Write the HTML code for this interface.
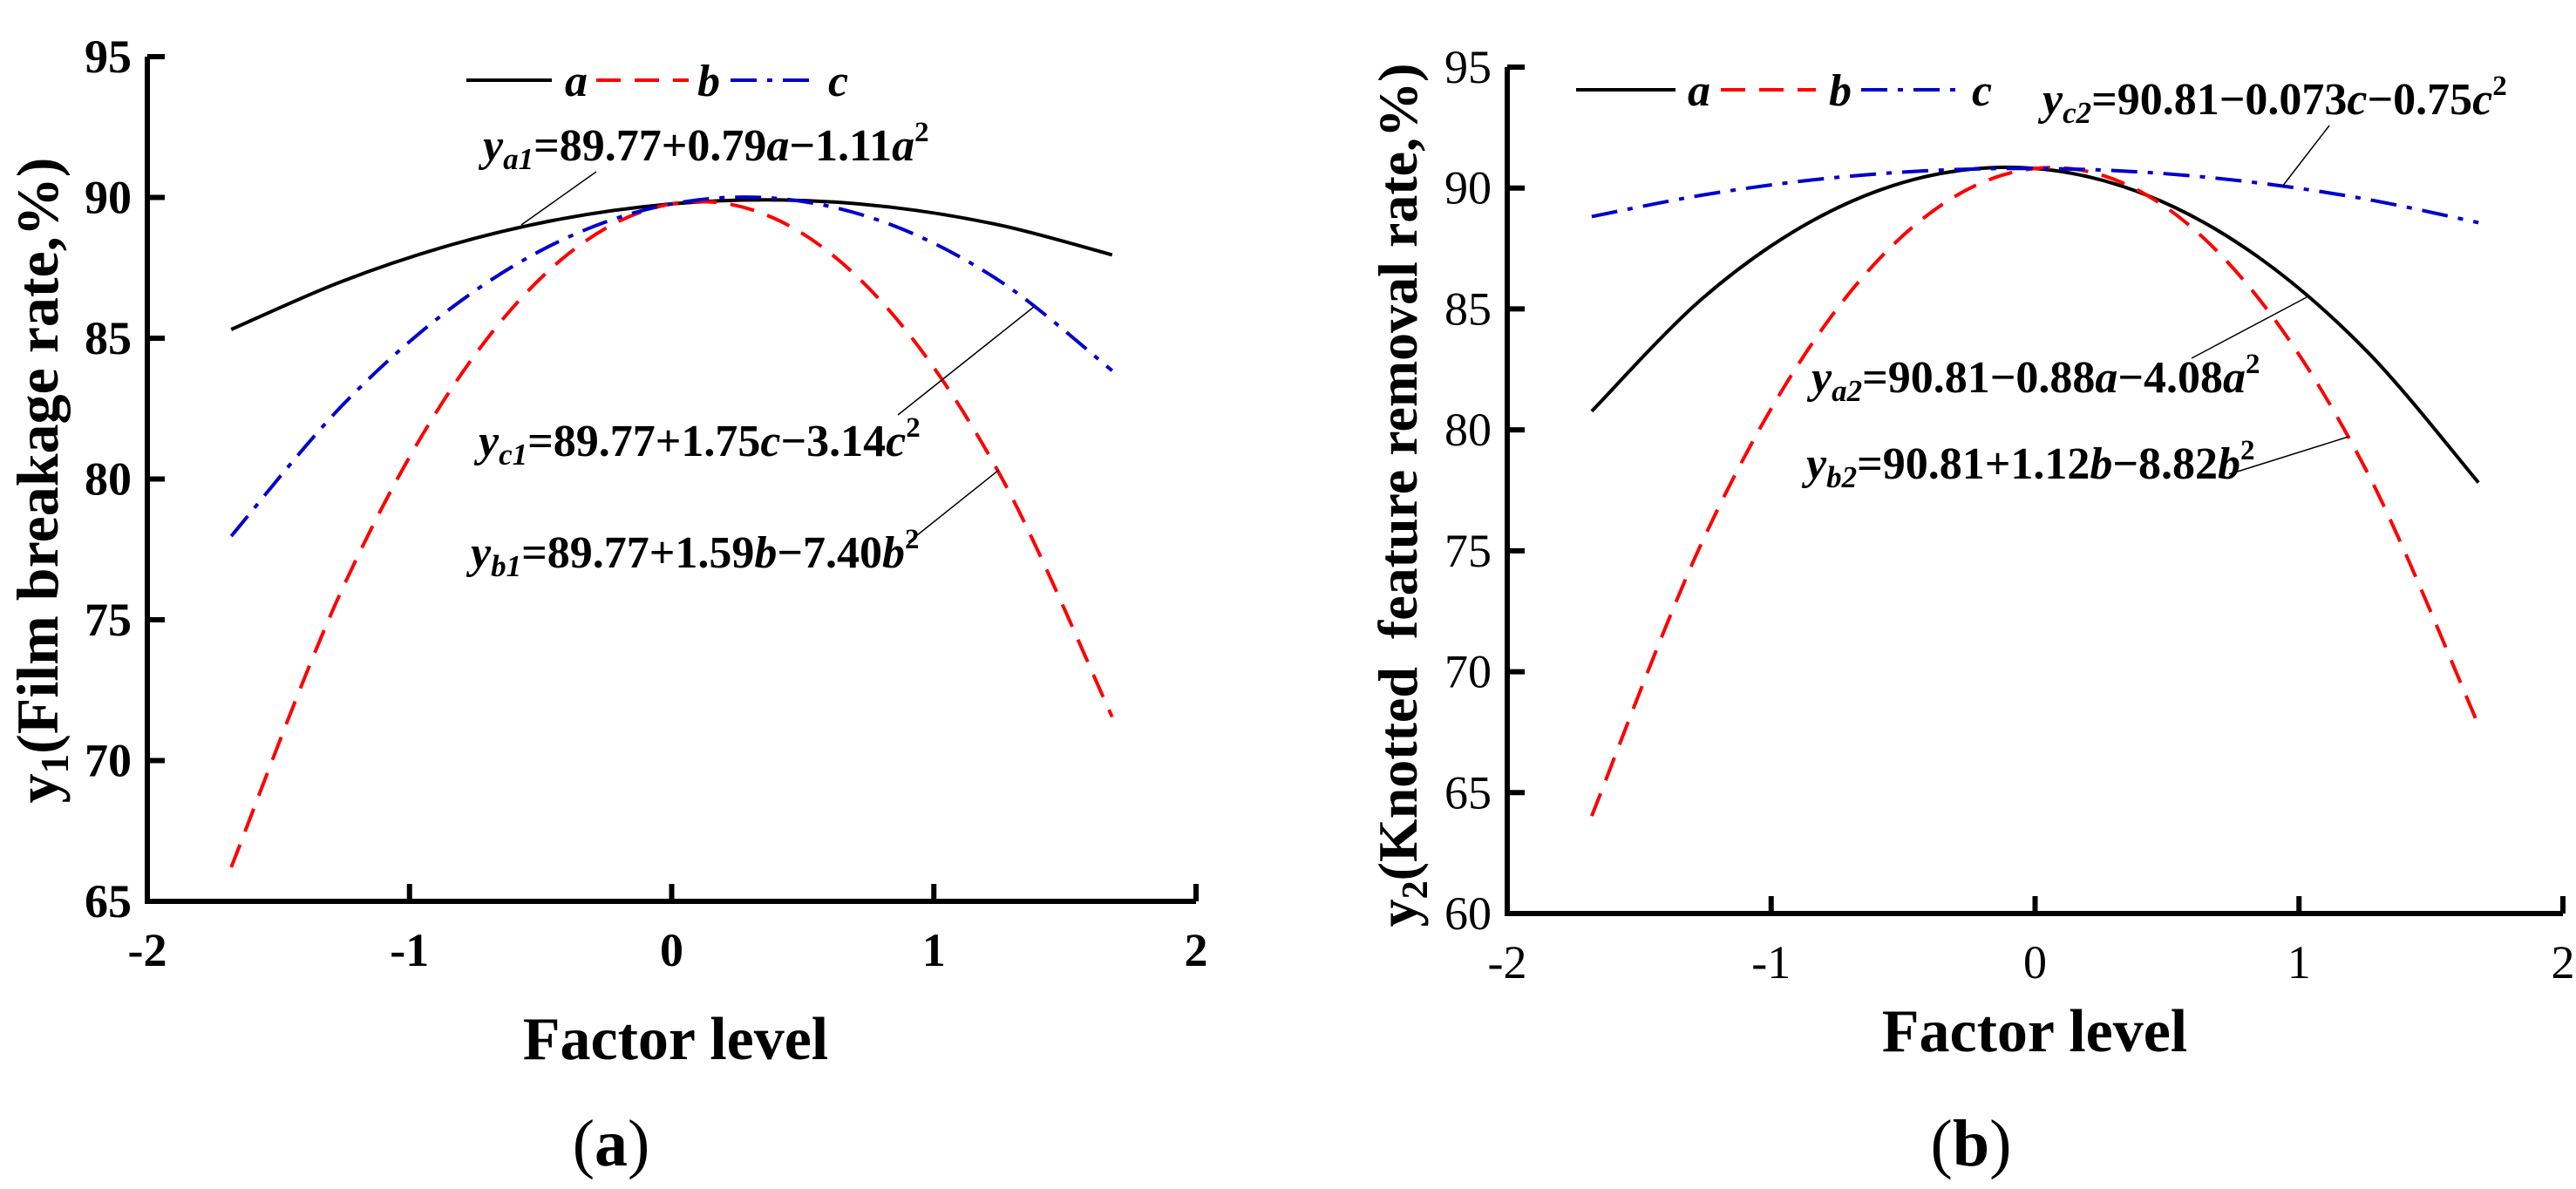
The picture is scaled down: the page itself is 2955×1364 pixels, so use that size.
<!DOCTYPE html>
<html><head><meta charset="utf-8">
<style>
html,body{margin:0;padding:0;background:#fff;}
svg{display:block;}
text{font-family:"Liberation Serif",serif;fill:#000;}
</style></head>
<body>
<svg id="chart" width="2955" height="1364" viewBox="0 0 2955 1364" xmlns="http://www.w3.org/2000/svg" font-family="Liberation Serif, serif"></svg>
<script>
// ---- data ----
const xLevels = [-1.68,-1.26,-0.84,-0.42,0,0.42,0.84,1.26,1.68];
const xTicks = [-2,-1,0,1,2];
const yTicksA = [65,70,75,80,85,90,95];
const yTicksB = [60,65,70,75,80,85,90,95];
const a1 = [85.31,87.01,88.32,89.24,89.77,89.91,89.65,89.00,87.96];
const b1 = [66.21,76.02,83.21,87.80,89.77,89.13,85.88,80.02,71.55];
const c1 = [77.97,82.58,86.08,88.48,89.77,89.95,89.02,86.98,83.85];
const a2 = [80.77,85.44,88.67,90.46,90.81,89.72,87.19,83.22,77.82];
const b2 = [64.03,75.40,83.65,88.78,90.81,89.73,85.53,78.22,67.80];
const c2 = [88.82,89.71,90.34,90.71,90.81,90.65,90.22,89.53,88.57];

const NS='http://www.w3.org/2000/svg';
const svg=document.getElementById('chart');
const FF='"Liberation Serif", serif';
function mk(tag,attrs,parent){const e=document.createElementNS(NS,tag);for(const k in attrs)e.setAttribute(k,attrs[k]);if(tag==='text')e.setAttribute('font-family',FF);(parent||svg).appendChild(e);return e;}

function smoothPath(pts){
  let d='M'+pts[0][0]+','+pts[0][1];
  for(let i=0;i<pts.length-1;i++){
    const p0=pts[Math.max(0,i-1)],p1=pts[i],p2=pts[i+1],p3=pts[Math.min(pts.length-1,i+2)];
    const c1x=p1[0]+(p2[0]-p0[0])/6,c1y=p1[1]+(p2[1]-p0[1])/6;
    const c2x=p2[0]-(p3[0]-p1[0])/6,c2y=p2[1]-(p3[1]-p1[1])/6;
    d+=' C'+c1x+','+c1y+' '+c2x+','+c2y+' '+p2[0]+','+p2[1];
  }
  return d;
}
const styles={a:{stroke:'#000',dash:''},b:{stroke:'#ff0000',dash:'28 16'},c:{stroke:'#0000cc',dash:'30 12 6 12'}};

function eq(g,x,y,sub,body){
  const t=mk('text',{x:x,y:y,'font-size':52,'font-weight':'bold'},g);
  const yy=mk('tspan',{'font-style':'italic'},t); yy.textContent='y';
  const s=mk('tspan',{'font-style':'italic','font-size':35,dy:10},t); s.textContent=sub;
  let first=true;
  body.forEach(p=>{
    const attrs={};
    if(first){attrs.dy=-10;first=false;}
    if(p[1])attrs['font-style']='italic';
    if(p[2]){attrs['font-size']=33;attrs.dy=-22;}
    const sp=mk('tspan',attrs,t); sp.textContent=p[0];
  });
  return t;
}

function panel(cfg){
  const g=mk('g',{});
  
  
  const X=v=>cfg.x0+(v-xTicks[0])/(xTicks[xTicks.length-1]-xTicks[0])*(cfg.x1-cfg.x0);
  const yt=cfg.yTicks;
  const Y=v=>cfg.y1-(v-yt[0])/(yt[yt.length-1]-yt[0])*(cfg.y1-cfg.y0);
  const ax=mk('path',{d:'M'+cfg.x0+','+cfg.y0+' L'+cfg.x0+','+cfg.y1+' L'+cfg.x1+','+cfg.y1,fill:'none',stroke:'#000','stroke-width':6},g);
  
  
  xTicks.forEach(v=>{
    const tk=mk('line',{x1:X(v),x2:X(v),y1:cfg.y1,y2:cfg.y1-20,stroke:'#000','stroke-width':6},g);
    
    
    const lb=mk('text',{x:X(v),y:cfg.y1+74,'text-anchor':'middle','font-size':cfg.tickSize,'font-weight':cfg.tickBold?'bold':'normal'},g);
    lb.textContent=(v<0?'-':'')+Math.abs(v);
    
    
  });
  yt.forEach(v=>{
    const tk=mk('line',{x1:cfg.x0,x2:cfg.x0+20,y1:Y(v),y2:Y(v),stroke:'#000','stroke-width':6},g);
    
    
    const lb=mk('text',{x:cfg.x0-18,y:Y(v)+18,'text-anchor':'end','font-size':cfg.tickSize,'font-weight':cfg.tickBold?'bold':'normal'},g);
    lb.textContent=v;
    
    
  });
  cfg.series.forEach(s=>{
    const pts=xLevels.map((x,i)=>[X(x),Y(s.vals[i])]);
    const st=styles[s.key];
    const p=mk('path',{d:smoothPath(pts),fill:'none',stroke:st.stroke,'stroke-width':4,'stroke-dasharray':st.dash},g);
    
    
  });
  const lg=mk('g',{},g);
  
  
  cfg.legend.forEach(l=>{
    const st=styles[l.key];
    const ln=mk('line',{x1:l.lx1,x2:l.lx2,y1:cfg.legY,y2:cfg.legY,stroke:st.stroke,'stroke-width':4,'stroke-dasharray':st.dash},lg);
    
    
    const tx=mk('text',{x:l.tx,y:cfg.legY+18,'font-size':52,'font-weight':'bold','font-style':'italic'},lg);
    tx.textContent=l.key;
    
    
  });
  cfg.eqs.forEach(e=>{
    const t=eq(g,e.x,e.y,e.sub,e.body);
    
    
    const ld=mk('line',{x1:e.l[0],y1:e.l[1],x2:e.l[2],y2:e.l[3],stroke:'#000','stroke-width':1.5},g);
    
    
  });
  const xt=mk('text',{x:cfg.xtX,y:cfg.xtY,'text-anchor':'middle','font-size':70,'font-weight':'bold'},g);
  xt.textContent='Factor level';
  
  
  const ytl=mk('text',{x:0,y:0,'text-anchor':'middle','font-size':cfg.ytSize,'font-weight':'bold',transform:'translate('+cfg.ytX+','+cfg.ytY+') rotate(-90)'},g);
  const y0=mk('tspan',{},ytl); y0.textContent='y';
  const y1=mk('tspan',{'font-size':Math.round(cfg.ytSize*0.66),dy:12},ytl); y1.textContent=cfg.ytSub;
  const y2=mk('tspan',{dy:-12},ytl); y2.textContent=cfg.ytText;
  
  
  const cap=mk('text',{x:cfg.capX,y:1337,'text-anchor':'middle','font-size':76},g);
  const c0=mk('tspan',{},cap); c0.textContent='(';
  const c1b=mk('tspan',{'font-weight':'bold'},cap); c1b.textContent=cfg.cap;
  const c2b=mk('tspan',{},cap); c2b.textContent=')';
  
  
}

panel({name:'panel-a',x0:169,x1:1372,y0:65,y1:1034,yTicks:yTicksA,tickBold:true,tickSize:54,
  series:[{key:'a',vals:a1},{key:'b',vals:b1},{key:'c',vals:c1}],
  legY:92,legend:[{key:'a',lx1:535,lx2:633,tx:648},{key:'b',lx1:684,lx2:790,tx:800},{key:'c',lx1:838,lx2:928,tx:950}],
  eqs:[
    {x:554,y:184,sub:'a1',body:[['=89.77+0.79'],['a',1],['\u22121.11'],['a',1],['2',0,1]],l:[684,197,598,258]},
    {x:549,y:523,sub:'c1',body:[['=89.77+1.75'],['c',1],['\u22123.14'],['c',1],['2',0,1]],l:[1030,476,1186,352]},
    {x:540,y:651,sub:'b1',body:[['=89.77+1.59'],['b',1],['\u22127.40'],['b',1],['2',0,1]],l:[1042,622,1146,539]}
  ],
  xtX:775,xtY:1215,ytX:66,ytY:551,ytSize:68,ytSub:'1',ytText:'(Film breakage rate,%)',capX:701,cap:'a'});

panel({name:'panel-b',x0:1729,x1:2940,y0:77,y1:1048,yTicks:yTicksB,tickBold:false,tickSize:54,
  series:[{key:'a',vals:a2},{key:'b',vals:b2},{key:'c',vals:c2}],
  legY:103,legend:[{key:'a',lx1:1808,lx2:1922,tx:1936},{key:'b',lx1:1974,lx2:2083,tx:2098},{key:'c',lx1:2135,lx2:2249,tx:2262}],
  eqs:[
    {x:2343,y:131,sub:'c2',body:[['=90.81\u22120.073'],['c',1],['\u22120.75'],['c',1],['2',0,1]],l:[2672,144,2618,214]},
    {x:2078,y:450,sub:'a2',body:[['=90.81\u22120.88'],['a',1],['\u22124.08'],['a',1],['2',0,1]],l:[2514,411,2646,341]},
    {x:2072,y:549,sub:'b2',body:[['=90.81+1.12'],['b',1],['\u22128.82'],['b',1],['2',0,1]],l:[2557,544,2694,501]}
  ],
  xtX:2334,xtY:1206,ytX:1625,ytY:568,ytSize:64,ytSub:'2',ytText:'(Knotted\u00a0\u00a0feature removal rate,%)',capX:2261,cap:'b'});
</script>
</body></html>
